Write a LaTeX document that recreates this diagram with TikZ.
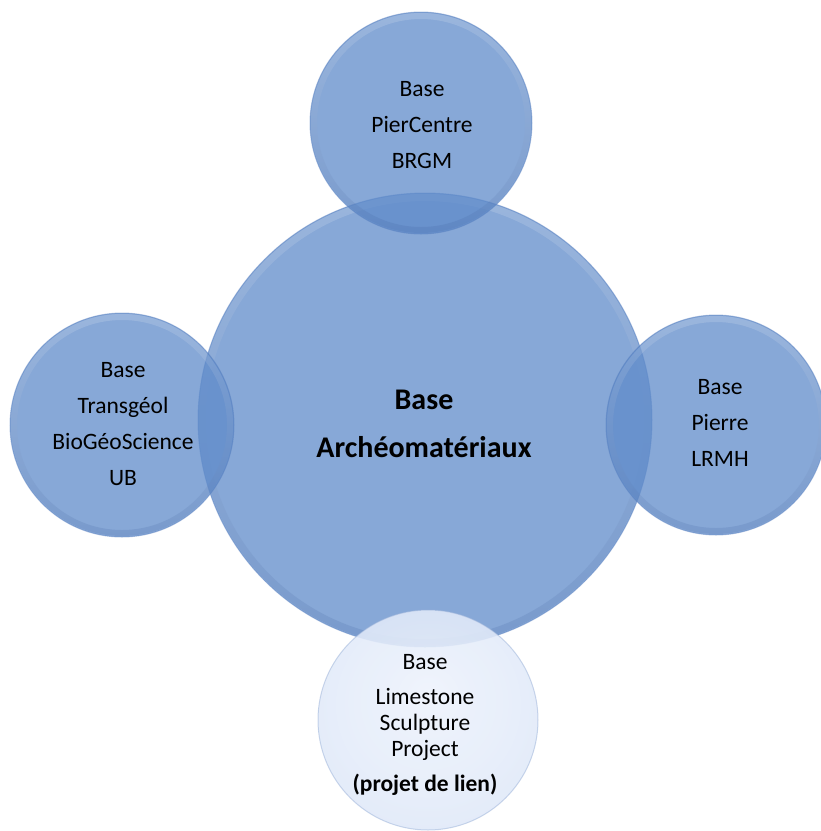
\documentclass[tikz,border=0pt]{standalone}
\usepackage{fontspec}
\setmainfont{Carlito}
\definecolor{circblue}{RGB}{95,139,202}
\definecolor{rimblue}{RGB}{85,125,190}
\definecolor{rimdark}{RGB}{50,85,150}
\definecolor{bubin}{RGB}{238,243,252}
\definecolor{bubmid}{RGB}{224,233,249}
\definecolor{bubout}{RGB}{196,211,240}
\pgfdeclareradialshading{bubble}{\pgfpoint{0bp}{6bp}}{color(0bp)=(bubin); color(28bp)=(bubmid); color(50bp)=(bubout)}
\tikzset{
  bluecirc/.style={circle, inner sep=0pt, fill=circblue, fill opacity=0.75,
    draw=rimblue, draw opacity=0.45, line width=1pt},
  lightcirc/.style={circle, inner sep=0pt, shade, shading=bubble, fill opacity=0.88,
    draw=rimblue!60, draw opacity=0.5, line width=1pt},
  bevel/.style={top color=white, bottom color=rimdark, opacity=0.16, even odd rule},
  sattext/.style={align=center, text=black, inner sep=0pt, font=\fontsize{23.5}{36}\selectfont},
  maintext/.style={align=center, text=black, inner sep=0pt, font=\bfseries\fontsize{30}{48}\selectfont},
}
\begin{document}
\begin{tikzpicture}[x=1pt,y=-1pt]
  \useasboundingbox (0,0) rectangle (821,831);
  \fill[white] (0,0) rectangle (821,831);
  % circles
  \node[bluecirc, minimum size=454pt] (main) at (425,420) {};
  \shade[bevel] (main.center) circle[radius=226pt] circle[radius=219pt];
  \node[bluecirc, minimum size=222pt] (top) at (421,123) {};
  \shade[bevel] (top.center) circle[radius=110pt] circle[radius=104pt];
  \node[bluecirc, minimum size=224pt] (left) at (122,425) {};
  \shade[bevel] (left.center) circle[radius=111pt] circle[radius=105pt];
  \node[bluecirc, minimum size=220pt] (right) at (716,425) {};
  \shade[bevel] (right.center) circle[radius=109pt] circle[radius=103pt];
  \node[lightcirc, minimum size=220pt] (bottom) at (428,720) {};
  % texts
  \node[maintext] (tmain) at (424,424) {Base\\Archéomatériaux};
  \node[sattext] (ttop) at (422,125) {Base\\PierCentre\\BRGM};
  \node[sattext] (tleft) at (123,424) {Base\\Transgéol\\BioGéoScience\\UB};
  \node[sattext] (tright) at (720,423) {Base\\Pierre\\LRMH};
  \node[sattext, font=\fontsize{23.5}{26}\selectfont] (tbottom) at (425,725)
    {Base\\[9pt]Limestone\\Sculpture\\Project\\[9pt]\textbf{(projet de lien)}};
\end{tikzpicture}
\end{document}
